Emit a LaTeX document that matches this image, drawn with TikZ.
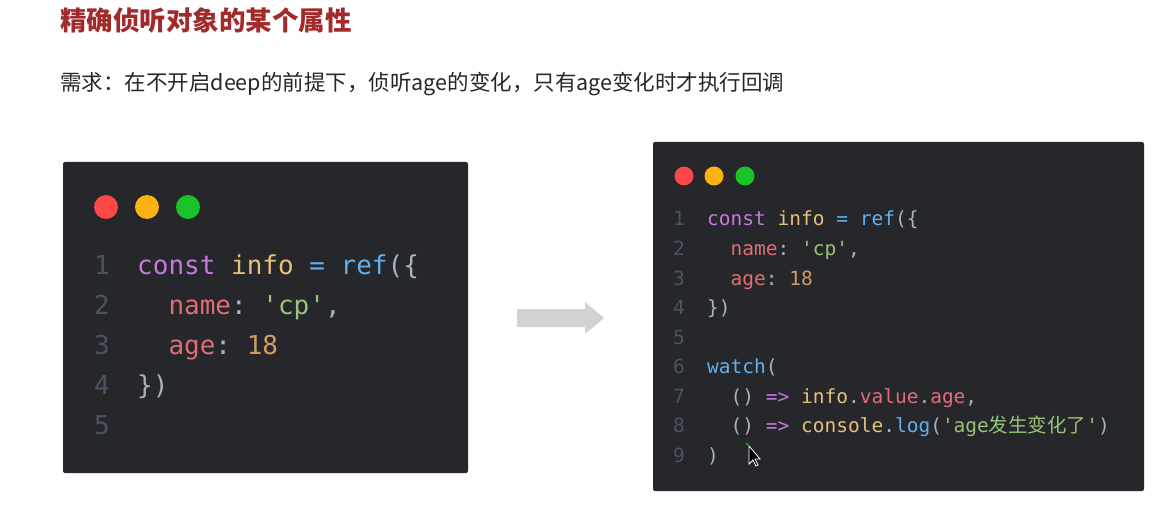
\documentclass[tikz,border=0pt]{standalone}
\usepackage{fontspec}
\setmainfont{Noto Sans CJK SC}
\setmonofont{DejaVu Sans Mono}
\newfontfamily\cjk{Noto Sans CJK SC}
\begin{document}
\definecolor{bg}{HTML}{25272B}
\definecolor{kp}{HTML}{C678DD}
\definecolor{ky}{HTML}{E5C07B}
\definecolor{kb}{HTML}{61AFEF}
\definecolor{kr}{HTML}{E06C75}
\definecolor{kg}{HTML}{98C379}
\definecolor{ko}{HTML}{D19A66}
\definecolor{kn}{HTML}{4B5263}
\definecolor{kw}{HTML}{ABB2BF}
\definecolor{ttl}{HTML}{A32A2A}
\begin{tikzpicture}[x=1pt,y=-1pt,
  box/.style={fill=bg,rounded corners=2pt},
  cl/.style={anchor=base west,inner sep=0pt,font=\ttfamily\fontsize{26}{26}\selectfont,text=kw},
  cr/.style={anchor=base west,inner sep=0pt,font=\ttfamily\fontsize{19.5}{19.5}\selectfont,text=kw},
  nl/.style={cl,text=kn},
  nr/.style={cr,text=kn}]
\useasboundingbox (0,0) rectangle (1173,532);
\fill[white] (0,0) rectangle (1173,532);
\node[anchor=west,inner sep=0,text=ttl,font=\bfseries\fontsize{26.5}{26.5}\selectfont] (title) at (60,20) {精确侦听对象的某个属性};
\node[anchor=west,inner sep=0,text=black!85,font=\fontsize{21.5}{21.5}\selectfont] (req) at (60,84) {需求：在不开启deep的前提下，侦听age的变化，只有age变化时才执行回调};
% left box
\path[box] (63,162) rectangle (468,473);
\fill[fill={rgb,255:red,252;green,72;blue,72}] (106,207) circle (12);
\fill[fill={rgb,255:red,252;green,178;blue,18}] (147,207) circle (12);
\fill[fill={rgb,255:red,24;green,196;blue,40}] (188,207) circle (12);
\foreach \n/\y in {1/274,2/314,3/354,4/394,5/434} \node[nl] (ln\n) at (94,\y) {\n};
\node[cl] (l1) at (137,274) {\textcolor{kp}{const} \textcolor{ky}{info} \textcolor{kb}{= ref}(\{};
\node[cl] (l2) at (137,314) {\phantom{xx}\textcolor{kr}{name}: \textcolor{kg}{'cp'},};
\node[cl] (l3) at (137,354) {\phantom{xx}\textcolor{kr}{age}: \textcolor{ko}{18}};
\node[cl] (l4) at (137,394) {\})};
% arrow
\fill[gray!35] (517,309) -- (585,309) -- (585,302) -- (604,318) -- (585,334) -- (585,327) -- (517,327) -- cycle;
% right box
\path[box] (653,142) rectangle (1144,491);
\fill[fill={rgb,255:red,252;green,72;blue,72}] (684,176) circle (9.5);
\fill[fill={rgb,255:red,252;green,178;blue,18}] (714,176) circle (9.5);
\fill[fill={rgb,255:red,24;green,196;blue,40}] (745,176) circle (9.5);
\foreach \n/\y in {1/225,2/255,3/285,4/314,5/344,6/373,7/403,8/432,9/462} \node[nr] (rn\n) at (673,\y) {\n};
\node[cr] (r1) at (707,225) {\textcolor{kp}{const} \textcolor{ky}{info} \textcolor{kb}{= ref}(\{};
\node[cr] (r2) at (707,255) {\phantom{xx}\textcolor{kr}{name}: \textcolor{kg}{'cp'},};
\node[cr] (r3) at (707,285) {\phantom{xx}\textcolor{kr}{age}: \textcolor{ko}{18}};
\node[cr] (r4) at (707,314) {\})};
\node[cr] (r6) at (707,373) {\textcolor{kb}{watch}(};
\node[cr] (r7) at (707,403) {\phantom{xx}() \textcolor{kp}{=>} \textcolor{ky}{info}.\textcolor{kr}{value}.\textcolor{kr}{age},};
\node[cr] (r8) at (707,432) {\phantom{xx}() \textcolor{kp}{=>} \textcolor{ky}{console}.\textcolor{kb}{log}(\textcolor{kg}{'age{\cjk 发生变化了}'})};
\node[cr] (r9) at (707,462) {)};
% cursor
\fill[green!70!black] (747,444) circle (1.5);
\draw[white,fill=black,line width=0.8pt] (749,446) -- (749,464) -- (753,460) -- (756,466) -- (758,465) -- (755,459) -- (760,459) -- cycle;
\end{tikzpicture}
\end{document}
